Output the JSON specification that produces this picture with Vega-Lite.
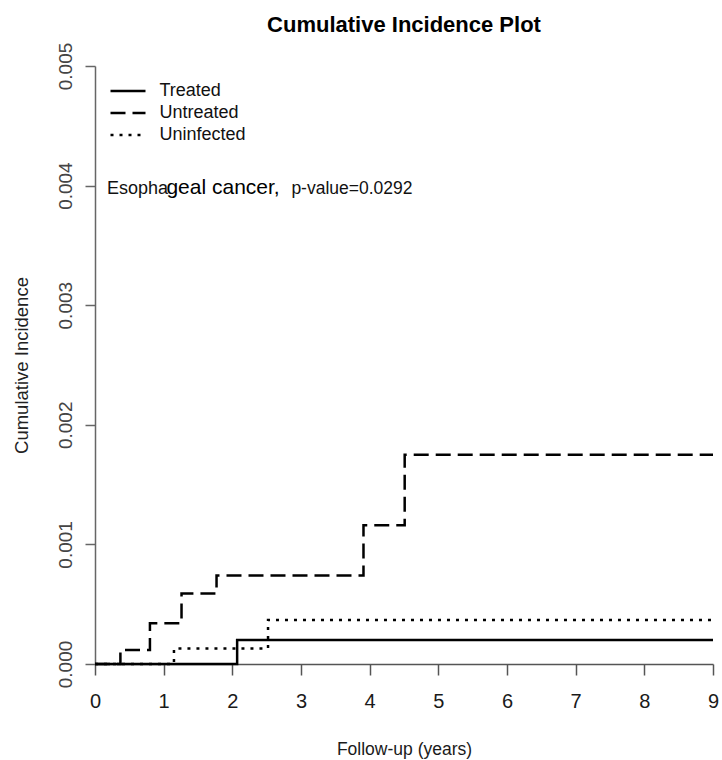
{
  "$schema": "https://vega.github.io/schema/vega-lite/v6.json",
  "autosize": "none",
  "width": 618,
  "height": 598,
  "padding": {"left": 95, "top": 66, "right": 9, "bottom": 96},
  "background": "white",
  "title": {
    "text": "Cumulative Incidence Plot",
    "anchor": "middle",
    "frame": "group",
    "font": "Liberation Sans",
    "fontSize": 22,
    "fontWeight": "bold",
    "color": "#000",
    "baseline": "alphabetic",
    "offset": -12
  },
  "config": {
    "view": {"stroke": null},
    "axis": {"grid": false},
    "legend": {
      "orient": "none",
      "legendX": 23,
      "legendY": 15,
      "padding": 0,
      "symbolType": "M-2,0H2",
      "symbolSize": 306.25,
      "symbolStrokeWidth": 2.5,
      "symbolStrokeColor": "#000",
      "symbolFillColor": "transparent",
      "symbolOpacity": 1,
      "labelFont": "Liberation Sans",
      "labelFontSize": 18,
      "labelColor": "#111",
      "labelOffset": 21.5,
      "labelLimit": 0,
      "rowPadding": 3
    }
  },
  "layer": [
    {
      "data": {
        "values": [
          {"group": "Treated", "t": 0, "ci": 0},
          {"group": "Treated", "t": 2.07, "ci": 0.0002},
          {"group": "Treated", "t": 9, "ci": 0.0002},
          {"group": "Untreated", "t": 0, "ci": 0},
          {"group": "Untreated", "t": 0.37, "ci": 0.000117},
          {"group": "Untreated", "t": 0.8, "ci": 0.00034},
          {"group": "Untreated", "t": 1.26, "ci": 0.00059},
          {"group": "Untreated", "t": 1.77, "ci": 0.00074},
          {"group": "Untreated", "t": 3.91, "ci": 0.00116},
          {"group": "Untreated", "t": 4.51, "ci": 0.00175},
          {"group": "Untreated", "t": 9, "ci": 0.00175},
          {"group": "Uninfected", "t": 0, "ci": 0},
          {"group": "Uninfected", "t": 1.15, "ci": 0.00013},
          {"group": "Uninfected", "t": 2.52, "ci": 0.000368},
          {"group": "Uninfected", "t": 9, "ci": 0.000368}
        ]
      },
      "mark": {"type": "line", "interpolate": "step-after", "color": "#000", "strokeWidth": 2.5, "clip": false},
      "encoding": {
        "x": {
          "field": "t",
          "type": "quantitative",
          "scale": {"domain": [0, 9], "nice": false, "zero": false},
          "axis": {
            "title": "Follow-up (years)",
            "values": [0, 1, 2, 3, 4, 5, 6, 7, 8, 9],
            "format": "d",
            "domainColor": "#555",
            "domainWidth": 1.5,
            "tickColor": "#555",
            "tickWidth": 1.5,
            "tickSize": 11,
            "labelFont": "Liberation Sans",
            "labelFontSize": 20,
            "labelColor": "#1a1a1a",
            "labelBaseline": "alphabetic",
            "labelPadding": 32,
            "labelFlush": false,
            "labelOverlap": false,
            "titleFont": "Liberation Sans",
            "titleFontSize": 17.5,
            "titleFontWeight": "normal",
            "titleColor": "#1a1a1a",
            "titleBaseline": "alphabetic",
            "titleY": 90.5
          }
        },
        "y": {
          "field": "ci",
          "type": "quantitative",
          "scale": {"domain": [0, 0.005], "nice": false},
          "axis": {
            "title": "Cumulative Incidence",
            "values": [0, 0.001, 0.002, 0.003, 0.004, 0.005],
            "format": ".3f",
            "domainColor": "#666",
            "domainWidth": 1.5,
            "tickColor": "#666",
            "tickWidth": 1.5,
            "tickSize": 10,
            "labelAngle": -90,
            "labelAlign": "center",
            "labelBaseline": "alphabetic",
            "labelPadding": 14,
            "labelFont": "Liberation Sans",
            "labelFontSize": 19,
            "labelColor": "#444",
            "labelFlush": false,
            "labelOverlap": false,
            "titleFont": "Liberation Sans",
            "titleFontSize": 18.5,
            "titleFontWeight": "normal",
            "titleColor": "#222",
            "titleAngle": -90,
            "titleAlign": "center",
            "titleBaseline": "alphabetic",
            "titleX": -68,
            "titleY": 299
          }
        },
        "strokeDash": {
          "field": "group",
          "type": "nominal",
          "scale": {
            "domain": ["Treated", "Untreated", "Uninfected"],
            "range": [[1, 0], [15, 7], [3, 6]]
          },
          "legend": {"title": null}
        }
      }
    },
    {
      "data": {"values": [{}]},
      "mark": {"type": "text", "text": "Esopha", "font": "Liberation Sans", "fontSize": 18, "align": "left", "baseline": "alphabetic", "color": "#111"},
      "encoding": {"x": {"datum": 0.1747}, "y": {"datum": 0.003926}}
    },
    {
      "data": {"values": [{}]},
      "mark": {"type": "text", "text": "geal cancer,", "font": "Liberation Sans", "fontSize": 21, "align": "left", "baseline": "alphabetic", "color": "#000"},
      "encoding": {"x": {"datum": 1.04}, "y": {"datum": 0.003926}}
    },
    {
      "data": {"values": [{}]},
      "mark": {"type": "text", "text": "p-value=0.0292", "font": "Liberation Sans", "fontSize": 17.5, "align": "left", "baseline": "alphabetic", "color": "#111"},
      "encoding": {"x": {"datum": 2.86}, "y": {"datum": 0.003926}}
    }
  ]
}
